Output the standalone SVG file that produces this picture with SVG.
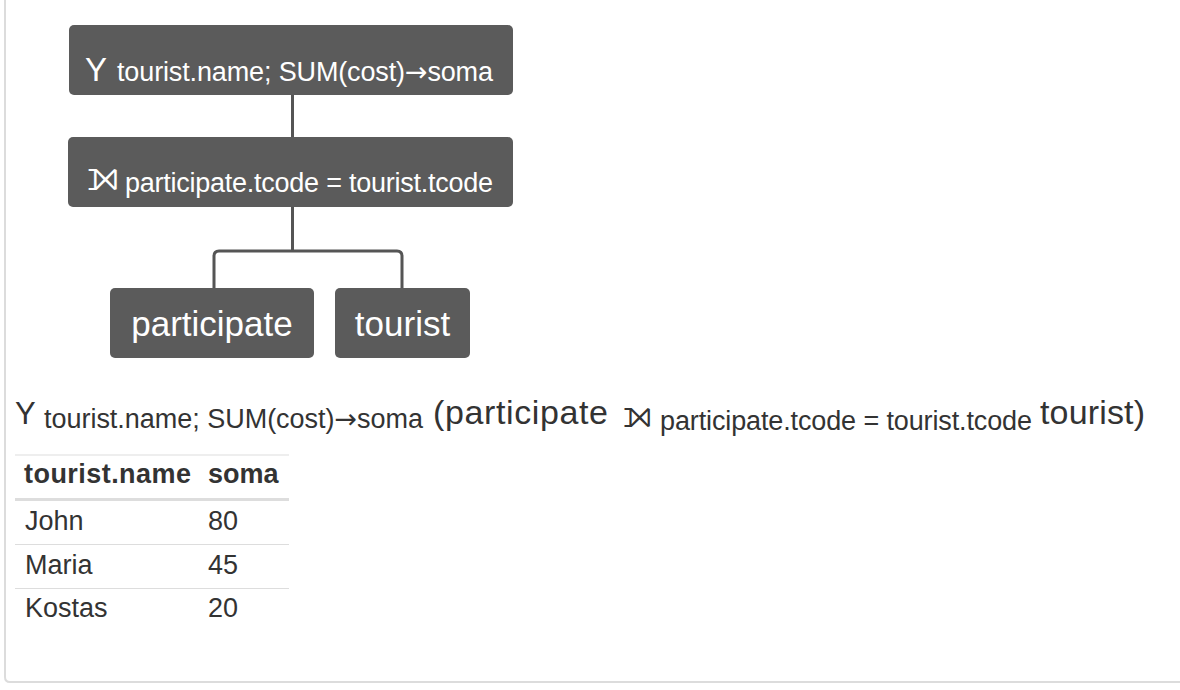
<svg xmlns="http://www.w3.org/2000/svg" width="1180" height="690" viewBox="0 0 1180 690">
<style>
.node rect{fill:#5b5b5b}
.nt{fill:#ffffff;font-family:"Liberation Sans","DejaVu Sans",sans-serif}
.ex{fill:#333333;font-family:"Liberation Sans","DejaVu Sans",sans-serif}
.sym{font-family:"DejaVu Sans","Liberation Sans",sans-serif}
.ar{font-family:"DejaVu Sans",sans-serif}
.conn{fill:none;stroke:#555555;stroke-width:3}
.tb{fill:#333333;font-family:"Liberation Sans",sans-serif;font-size:27px}
.th{font-weight:bold}
</style>
<rect x="0" y="0" width="1180" height="690" fill="#ffffff"/>
<path d="M5,0 V677 Q5,682 10,682 H1180" fill="none" stroke="#dcdcdc" stroke-width="2"/>
<g id="connectors">
<path class="conn" d="M292.5,95 V137"/>
<path class="conn" d="M292.5,207 V251"/>
<path class="conn" d="M214,289 V256 Q214,251 219,251 H397 Q402,251 402,256 V289"/>
</g>
<g id="node-group" class="node">
<rect x="69" y="25" width="444" height="70" rx="5"/>
<text class="nt" x="85" y="81" font-size="33">Υ</text>
<text class="nt" x="117" y="81" font-size="27" textLength="376">tourist.name; SUM(cost)<tspan class="ar" font-size="27">→</tspan>soma</text>
</g>
<g id="node-join" class="node">
<rect x="68" y="137" width="445" height="70" rx="5"/>
<text class="nt sym" x="87" y="190" font-size="42">⟕</text>
<text class="nt" x="125" y="192" font-size="27" textLength="368">participate.tcode = tourist.tcode</text>
</g>
<g id="node-participate" class="node">
<rect x="110" y="288" width="204" height="70" rx="5"/>
<text class="nt" x="212" y="336" font-size="35" text-anchor="middle">participate</text>
</g>
<g id="node-tourist" class="node">
<rect x="335" y="288" width="135" height="70" rx="5"/>
<text class="nt" x="402.5" y="336" font-size="35" text-anchor="middle">tourist</text>
</g>
<g id="expression">
<text class="ex" x="15" y="424" font-size="31">Υ</text>
<text class="ex" x="44" y="428" font-size="27" textLength="379">tourist.name; SUM(cost)<tspan class="ar" font-size="27">→</tspan>soma</text>
<text class="ex" x="433" y="424" font-size="34" textLength="175">(participate</text>
<text class="ex sym" x="623" y="427" font-size="38">⟕</text>
<text class="ex" x="660" y="430" font-size="27" textLength="372">participate.tcode = tourist.tcode</text>
<text class="ex" x="1040" y="424" font-size="34" textLength="105">tourist)</text>
</g>
<g id="result-table">
<line x1="15" y1="455" x2="289" y2="455" stroke="#dddddd" stroke-width="1"/>
<text class="tb th" x="24" y="483" textLength="167">tourist.name</text>
<text class="tb th" x="208" y="483">soma</text>
<line x1="15" y1="499.5" x2="289" y2="499.5" stroke="#dddddd" stroke-width="3"/>
<text class="tb" x="25" y="530">John</text>
<text class="tb" x="208" y="530">80</text>
<line x1="15" y1="544.5" x2="289" y2="544.5" stroke="#dddddd" stroke-width="1"/>
<text class="tb" x="25" y="574">Maria</text>
<text class="tb" x="208" y="574">45</text>
<line x1="15" y1="588.5" x2="289" y2="588.5" stroke="#dddddd" stroke-width="1"/>
<text class="tb" x="25" y="617">Kostas</text>
<text class="tb" x="208" y="617">20</text>
</g>
</svg>
